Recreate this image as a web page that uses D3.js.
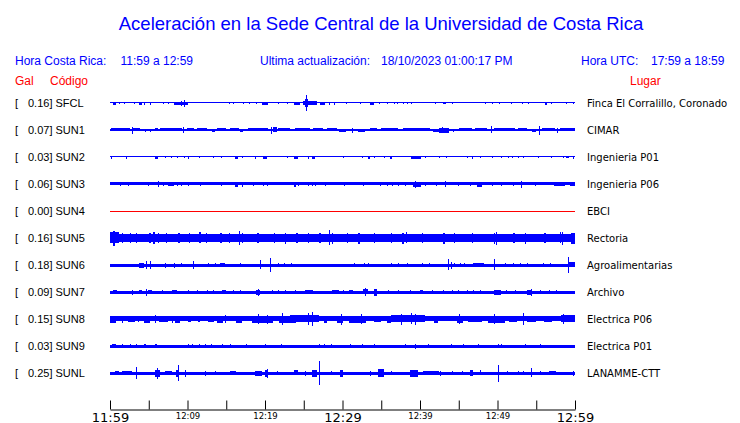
<!DOCTYPE html>
<html><head><meta charset="utf-8">
<script src="https://cdn.jsdelivr.net/npm/d3@7"></script>
<style>
html,body{margin:0;padding:0;background:#fff;}
svg{display:block;}
</style></head>
<body>
<script>
// ---------- data ----------
const title = "Aceleración en la Sede Central de la Universidad de Costa Rica";
const headerLocal = ["Hora Costa Rica:", "11:59 a 12:59"];
const headerUpdate = ["Ultima actualización:", "18/10/2023 01:00:17 PM"];
const headerUTC = ["Hora UTC:", "17:59 a 18:59"];
const colLabels = ["Gal", "Código", "Lugar"];

const codes = ["SFCL","SUN1","SUN2","SUN3","SUN4","SUN5","SUN6","SUN7","SUN8","SUN9","SUNL"];
const peakGal = [0.16,0.07,0.03,0.06,0.00,0.16,0.18,0.09,0.15,0.03,0.25];
const places = ["Finca El Corralillo, Coronado","CIMAR","Ingenieria P01","Ingenieria P06","EBCI","Rectoria",
  "Agroalimentarias","Archivo","Electrica P06","Electrica P01","LANAMME-CTT"];
// background noise half-amplitude (relative units, 100 = half row)
const noiseAmp = [4,7,4,12,0,31,11,11,19,10,11];

// bursts: [start minute, end minute, half-amplitude] (minutes after 11:59)
const burstsSFCL = [[0.4,0.8,10],[1.1,1.2,8],[1.8,1.9,6],[3.1,3.2,8],[3.7,4.1,10],[4.4,4.5,10],[5.1,5.2,10],[6.9,7.0,8],[7.5,7.6,8],
  [8.2,10.1,10],[9.2,9.3,17],[9.5,9.7,25],[15.3,15.4,6],[15.9,16,6],[17.2,17.3,8],[17.9,18,8],[18.9,19,6],[19.6,20.4,10],[21.7,21.8,6],
  [22.8,22.9,6],[23.7,24.5,10],[24.9,26.7,15],[25.2,25.6,30],[25.3,25.45,59],[27.1,27.7,10],[28.3,28.4,10],[28.9,29.0,10],[30.5,30.6,6],
  [32.2,32.3,6],[33.5,34.1,10],[34.7,34.8,8],[35.8,35.9,6],[36.7,36.8,8],[37.0,37.1,8],[37.8,37.9,8],[38.3,38.4,6],[38.8,39.0,8],
  [41.9,42,6],[43,43.3,8],[44.1,44.2,6],[48.4,48.5,8],[49.3,49.4,6],[50.2,50.3,8],[51.7,51.8,6],[53.1,53.2,8],[53.9,54,6],
  [56.1,56.4,10],[56.9,57,6],[58.9,59,6],[59.7,59.8,6]];
const burstsSUN1 = [[0.1,2.6,12],[2.8,2.9,25],[3.0,3.9,12],[4.5,4.6,10],[5.2,5.3,10],[5.8,6.2,12],[6.5,9.3,12],[9.4,9.5,22],[9.9,10.8,12],
  [11.2,12.5,12],[13.1,13.5,10],[13.8,15.0,12],[15.5,16.6,12],[16.8,17.2,10],[17.8,20.4,12],[20.8,20.9,25],[21.0,21.5,20],[21.7,23.2,12],
  [23.9,25.8,12],[26.2,27.5,12],[28.0,29.3,12],[29.5,30.5,10],[31.2,31.3,17],[32.0,32.9,10],[33.5,34.4,12],[35.0,37.2,12],[37.8,41.3,12],
  [41.7,42.4,10],[42.5,43.7,18],[42.9,43.0,22],[44.3,44.4,10],[45.0,46.7,12],[47.1,48.6,12],[49.1,49.2,27],[49.5,52.3,12],[52.7,53.8,12],
  [54.4,55.0,10],[55.3,55.4,32],[55.7,57.4,12],[57.7,57.8,17],[58.1,60,12]];
const burstsSUN2 = [[0.1,0.2,10],[2.1,2.2,10],[5.8,6.2,10],[7.1,7.2,8],[7.9,8.0,8],[8.6,8.7,8],[9.6,9.7,8],[10.1,10.2,10],[11.5,11.6,6],
  [13.3,13.4,6],[14.3,14.4,6],[16.1,16.5,10],[17.0,17.1,8],[18.7,18.8,10],[19.8,20.2,10],[22.8,22.9,6],[23.7,24.3,10],[25.5,25.6,10],
  [26.0,26.4,10],[30.1,30.2,6],[32.5,32.6,8],[33.3,33.6,10],[34.1,34.2,6],[35.3,35.4,8],[36.1,36.4,10],[38.9,40.1,10],[40.6,40.7,6],
  [42.4,42.5,6],[43.4,43.5,6],[46.0,46.1,6],[46.7,46.9,10],[47.7,47.8,6],[49.3,49.4,6],[50.5,50.6,6],[51.3,51.4,6],[51.9,52.0,6],
  [52.6,52.7,6],[53.3,53.4,8],[55.2,55.3,6],[56.9,57.0,6],[58.5,58.6,8],[58.9,59.2,8],[59.7,59.8,10]];
const burstsSUN3 = [[1.3,1.4,15],[2.3,2.4,15],[4.9,5.0,15],[6.2,6.3,22],[6.9,7.0,15],[7.5,8.2,15],[8.6,8.7,15],[9.1,9.2,15],[10.1,10.2,15],
  [11.6,11.7,15],[14.3,14.4,15],[16.1,16.5,17],[17.0,17.2,17],[18.5,18.6,15],[19.8,19.9,15],[20.3,20.4,15],[23.7,24.0,17],[24.3,24.4,15],
  [25.6,25.7,15],[26.0,26.1,15],[26.4,26.5,15],[27.7,27.8,15],[30.2,30.3,15],[32.7,32.8,15],[34.8,34.9,15],[35.8,35.9,15],[36.4,36.5,15],
  [37.2,37.3,15],[38.1,38.2,15],[39.1,40.1,18],[39.3,39.4,25],[40.6,40.7,15],[42.1,42.2,15],[43.2,43.4,22],[44.9,45.0,15],[46.4,46.5,15],
  [47.4,48.0,17],[49.3,49.4,15],[50.5,50.6,15],[52.0,52.1,15],[53.0,53.1,25],[54.9,55.0,15],[57.3,58.7,14],[59.4,60,15]];
const burstsSUN4 = [];
const burstsSUN5 = [[0,1.1,42],[0.4,0.6,54],[1.5,1.7,38],[2.6,2.7,38],[3.4,3.5,38],[5.0,5.3,38],[5.6,5.8,46],[6.2,6.3,38],[7.2,7.4,38],
  [8.8,9.0,38],[10.2,10.3,38],[11.5,11.7,42],[12.4,12.5,38],[14.2,14.4,38],[15.4,15.5,38],[16.6,16.8,50],[17.0,17.1,38],[19.0,19.2,38],
  [21.2,21.3,38],[22.6,22.7,40],[24.0,24.2,38],[25.6,25.7,38],[27.0,27.2,38],[28.2,28.3,57],[28.6,28.8,40],[30.6,30.7,38],[32.0,32.2,40],
  [34.0,34.1,38],[36.2,36.3,38],[37.7,37.9,40],[38.2,38.3,42],[40.2,40.4,38],[43.0,43.2,40],[44.4,44.5,38],[46.7,46.9,38],[49.5,49.7,40],
  [49.8,49.9,48],[52.0,52.2,38],[53.5,53.6,40],[56.0,56.2,38],[58.0,58.2,42],[58.3,58.4,48],[59.5,60,40]];
const burstsSUN6 = [[3.7,4.4,17],[4.7,4.8,30],[5.1,5.2,30],[7.1,7.2,17],[8.2,8.3,17],[9.2,9.3,12],[10.7,10.8,30],[12.7,12.8,12],[13.5,13.6,12],
  [14.2,14.8,15],[16.8,16.9,12],[19.4,19.5,35],[20.6,20.7,52],[21.7,21.8,12],[22.4,22.5,12],[23.3,23.5,15],[26.4,26.6,10],[31.5,31.6,12],
  [32.8,32.9,15],[33.3,33.4,15],[36.3,36.4,12],[37.1,37.2,12],[38.3,38.4,12],[40.3,40.4,15],[41.1,41.2,12],[43.6,43.7,42],[44.0,44.1,25],
  [44.4,44.5,15],[45.1,45.2,15],[45.7,45.8,12],[46.9,48.2,15],[49.5,49.6,42],[51.0,51.1,15],[52.0,52.1,12],[52.9,53.0,15],[53.8,53.9,15],
  [55.9,56.0,15],[56.8,56.9,12],[59.1,59.2,59],[59.2,60,20]];
const burstsSUN7 = [[0.4,0.9,15],[2.8,2.9,17],[3.7,4.1,15],[4.7,4.8,25],[4.9,5.4,15],[6.7,6.8,15],[8.0,8.6,15],[10.1,10.2,12],[11.2,11.3,12],
  [12.5,12.6,12],[13.3,13.4,12],[14.4,15.0,15],[15.9,16.0,12],[16.8,16.9,12],[18.9,19.4,17],[19.1,19.2,25],[20.9,21.0,12],[21.7,21.8,12],
  [22.6,22.7,12],[23.9,24.0,12],[25.2,26.2,15],[28.6,29.5,12],[30.1,30.2,12],[30.8,31.4,15],[32.7,33.3,20],[32.9,33.0,30],[34.1,34.4,25],
  [35.9,36.0,12],[37.2,37.3,12],[38.7,38.8,15],[40.0,40.4,15],[41.5,41.6,12],[43.0,43.1,12],[44.1,44.2,12],[44.9,45.0,12],[46.0,46.1,12],
  [46.9,47.0,12],[47.7,47.8,12],[49.5,50.5,17],[51.1,51.2,12],[52.3,52.4,12],[53.8,54.4,17],[54.3,54.4,25],[55.5,55.6,12],[56.6,56.7,12],
  [57.6,57.7,12]];
const burstsSUN8 = [[0,0.8,25],[1.5,1.6,25],[2.3,3.2,22],[3.6,3.7,22],[4.4,5.2,25],[5.8,5.9,30],[6.3,7.5,22],[8.0,8.1,25],[8.4,9.0,25],
  [10.0,10.4,22],[11.4,11.6,22],[12.6,13.4,22],[13.8,14.6,25],[14.8,15.0,30],[16.2,17.0,25],[18.3,21.0,25],[19.1,19.2,37],[20.3,20.4,32],
  [21.8,24.0,25],[22.2,22.3,44],[23.2,27.0,27],[25.6,25.7,44],[26.0,26.1,50],[27.6,28.0,25],[29.3,30.0,25],[29.8,29.9,40],[30.8,33.0,25],
  [32.4,32.5,37],[34.0,35.0,23],[35.8,36.2,25],[36.2,40.6,27],[37.5,37.6,40],[38.8,38.9,42],[39.4,39.5,40],[41.8,42.3,25],[44.8,45.5,25],
  [45.0,45.1,37],[46.2,48.0,23],[48.8,51.0,25],[49.6,49.7,37],[51.5,52.5,23],[53.3,53.4,44],[53.8,55.0,23],[56.0,57.0,23],[58.2,60,27],
  [58.5,58.6,37]];
const burstsSUN9 = [[0.3,0.8,12],[1.5,1.6,12],[2.6,2.7,12],[3.4,3.5,12],[4.4,4.6,12],[5.8,6.0,12],[10.0,10.1,12],[10.6,10.7,12],[11.5,11.6,12],
  [12.3,12.4,12],[13.0,13.1,12],[14.5,14.6,12],[15.5,15.6,12],[17.6,17.7,12],[20.0,20.1,12],[22.0,22.1,12],[27.0,27.1,12],[27.6,27.7,12],
  [28.5,28.6,12],[31.0,31.1,12],[32.5,32.6,12],[34.0,34.1,12],[38.0,38.1,12],[39.3,39.4,17],[41.0,41.1,12],[44.0,44.1,12],[45.5,45.6,12],
  [47.5,47.6,12],[50.0,50.1,12],[50.5,50.6,12],[53.5,53.6,12],[55.5,55.6,12]];
const burstsSUNL = [[0.6,1.1,15],[1.5,2.8,15],[3.3,3.4,44],[5.8,6.5,25],[6.1,6.2,40],[7.1,8.0,15],[8.5,8.9,25],[8.8,8.9,59],[9.7,9.8,25],
  [12.3,12.4,17],[13.5,13.6,12],[15.5,16.3,15],[18.7,19.6,17],[20.0,20.4,25],[20.2,20.3,32],[21.5,21.6,12],[23.7,24.3,20],[25.2,25.3,17],
  [26.0,26.7,25],[27.0,27.1,89],[28.5,28.6,15],[29.7,30.0,25],[33.5,33.6,17],[34.6,35.3,30],[36.3,36.4,12],[38.7,39.8,25],[40.4,42.4,15],
  [42.6,42.7,17],[44.1,44.2,15],[45.4,45.5,12],[46.4,46.9,22],[47.7,47.8,20],[50.0,50.1,62],[51.2,51.3,12],[52.7,52.8,12],[53.3,53.4,15],
  [54.3,54.4,35],[55.5,55.6,15],[56.6,57.6,15],[59.8,59.9,17]];
const bursts = [burstsSFCL,burstsSUN1,burstsSUN2,burstsSUN3,burstsSUN4,burstsSUN5,burstsSUN6,burstsSUN7,burstsSUN8,burstsSUN9,burstsSUNL];

const tickMinutes = [0,5,10,15,20,25,30,35,40,45,50,55,60];
const tickLabels = ["11:59","","12:09","","12:19","","12:29","","12:39","","12:49","","12:59"];
const bigTickLabels = ["11:59","12:29","12:59"];

// ---------- drawing ----------
const W = 740, H = 423;
const BLUE = "#0000ff", RED = "#ff0000";
const svg = d3.select("body").append("svg").attr("width", W).attr("height", H);

const x = d3.scaleLinear().domain([0, 60]).range([110, 575]);
const y = d3.scalePoint().domain(codes).range([103, 373]);
const amp = d3.scaleLinear().domain([0, 100]).range([0, 13.5]);

const SANS = "'Liberation Sans', Arial, sans-serif";
const DEJA = "'DejaVu Sans', sans-serif";

svg.append("text").attr("x", 381).attr("y", 30).attr("text-anchor", "middle")
  .attr("font-family", SANS).attr("font-size", 18.5).attr("fill", BLUE).text(title);

const hdr = [[15, headerLocal[0]],[120.5, headerLocal[1]],[260, headerUpdate[0]],[381, headerUpdate[1]],[581, headerUTC[0]],[651, headerUTC[1]]];
svg.append("g").selectAll("text").data(hdr).join("text")
  .attr("x", d => d[0]).attr("y", 65).attr("font-family", SANS).attr("font-size", 12).attr("fill", BLUE).text(d => d[1]);

const colX = [15, 50, 630];
svg.append("g").selectAll("text").data(colLabels).join("text")
  .attr("x", (d, i) => colX[i]).attr("y", 85).attr("font-family", SANS).attr("font-size", 12).attr("fill", RED).text(d => d);

const rows = svg.append("g").selectAll("g").data(codes).join("g")
  .attr("transform", d => `translate(0,${y(d)})`);

rows.append("text").attr("x", 15).attr("y", 4).attr("font-family", SANS).attr("font-size", 11).attr("fill", "#000").text("[");
rows.append("text").attr("x", 28).attr("y", 4).attr("font-family", SANS).attr("font-size", 11).attr("fill", "#000")
  .text((d, i) => `${peakGal[i].toFixed(2)}] ${d}`);
rows.append("text").attr("x", 587).attr("y", 3.5).attr("font-family", DEJA).attr("font-size", 10).attr("fill", "#000")
  .text((d, i) => places[i]);

rows.each(function(code, i) {
  const g = d3.select(this).append("g").attr("shape-rendering", "crispEdges");
  if (noiseAmp[i] === 0) {
    g.append("rect").attr("x", x(0)).attr("y", -0.5).attr("width", x(60) - x(0)).attr("height", 1).attr("fill", RED);
    return;
  }
  const h0 = amp(noiseAmp[i]);
  g.append("rect").attr("x", x(0)).attr("y", Math.round(-h0)).attr("width", x(60) - x(0))
    .attr("height", Math.max(1, Math.round(2 * h0))).attr("fill", BLUE);
  g.selectAll("rect.b").data(bursts[i]).join("rect").attr("class", "b")
    .attr("x", d => x(d[0]))
    .attr("width", d => Math.max(1, x(d[1]) - x(d[0])))
    .attr("y", d => Math.round(-amp(d[2])))
    .attr("height", d => Math.max(1, Math.round(2 * amp(d[2]))))
    .attr("fill", BLUE);
});

// time axis
const axis = d3.axisBottom(x).tickValues(tickMinutes).tickSizeInner(-9).tickSizeOuter(0)
  .tickFormat((d, i) => tickLabels[i]);
const ax = svg.append("g").attr("transform", "translate(0,409.5)").call(axis);
ax.select(".domain").attr("stroke", "#000");
ax.selectAll(".tick line").attr("stroke", "#000");
ax.selectAll(".tick text")
  .attr("fill", "#000")
  .attr("font-family", DEJA)
  .attr("dy", null)
  .attr("y", d => bigTickLabels.includes(tickLabels[tickMinutes.indexOf(d)]) ? 12 : 9)
  .attr("font-size", d => bigTickLabels.includes(tickLabels[tickMinutes.indexOf(d)]) ? 13 : 8.5);
</script>
</body></html>
